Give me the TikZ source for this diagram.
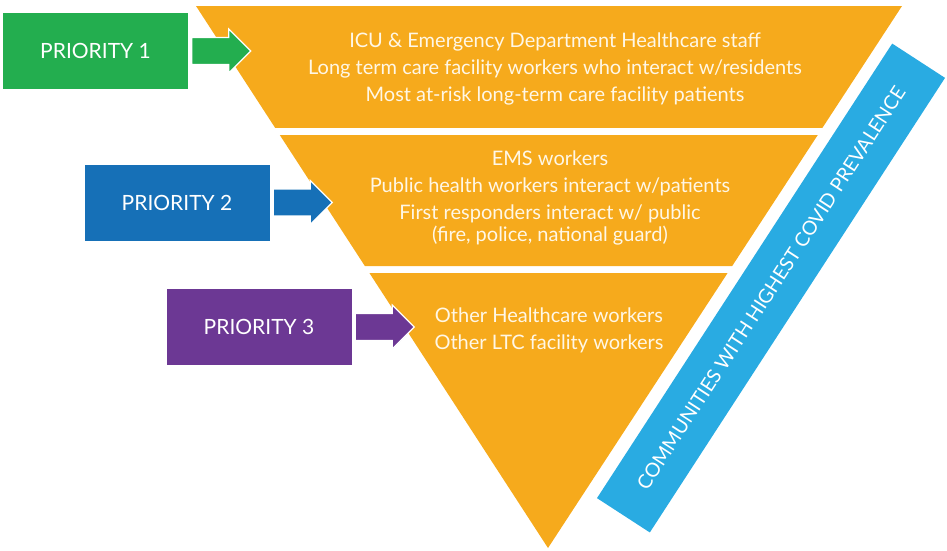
\documentclass[tikz,border=0pt]{standalone}
\usepackage{fontspec}
\setmainfont{Lato}
\usetikzlibrary{shapes, arrows, positioning, calc}

\definecolor{tierorange}{HTML}{F6AA1C}
\definecolor{tiertext}{HTML}{FFF7E6}
\definecolor{prioone}{HTML}{23AE4F}
\definecolor{priotwo}{HTML}{1670B7}
\definecolor{priothree}{HTML}{6C3894}
\definecolor{covidblue}{HTML}{29ABE2}

\begin{document}
\begin{tikzpicture}[x=1pt, y=-1pt, node distance = 3pt]
      \tikzstyle{priority} = [
        rectangle,
        text=white,
        minimum width = 185pt,
        minimum height = 76pt,
        font = \fontsize{21}{25}\selectfont
      ]

      \tikzstyle{pointer} = [
        single arrow,
        draw=white,
        line width = 1.2pt,
        minimum height = 59pt,
        minimum width = 44pt,
        inner xsep = 0pt,
        inner ysep = 10.5pt
      ]

      \tikzstyle{tier} = [
        fill=tierorange
      ]

      \tikzstyle{tiertext} = [
        text=tiertext,
        align=center,
        font = \fontsize{20}{27}\selectfont
      ]

      \tikzstyle{covid} = [
        rectangle,
        fill=covidblue,
        text=white,
        rotate = 57,
        minimum width = 542pt,
        minimum height = 63pt,
        font = \fontsize{19.5}{22}\selectfont
      ]

      \useasboundingbox (0,0) rectangle (947,550);

      % the inverted triangle, cut in three tiers
      \coordinate (topleft) at (196,6);
      \coordinate (topright) at (902,6);
      \coordinate (apex) at (548,548);

      \fill[tier] (topleft) -- (topright) -- ($(topright)!0.225!(apex)$)
      -- ($(topleft)!0.225!(apex)$) -- cycle;
      \fill[tier] ($(topleft)!0.238!(apex)$) -- ($(topright)!0.238!(apex)$)
      -- ($(topright)!0.48!(apex)$) -- ($(topleft)!0.48!(apex)$) -- cycle;
      \fill[tier] ($(topleft)!0.493!(apex)$) -- ($(topright)!0.493!(apex)$)
      -- (apex) -- cycle;

      \node[tiertext] (tierone) at (555,69) {ICU \& Emergency Department
        Healthcare staff\\Long term care facility workers who interact
        w/residents\\Most at-risk long-term care facility patients};
      \node[tiertext] (tiertwo) at (550,198) {EMS workers\\Public health
        workers interact w/patients\\First responders interact w/
        public\\[-5pt](fire, police, national guard)};
      \node[tiertext] (tierthree) at (549,330.5) {Other Healthcare
        workers\\Other LTC facility workers};

      \node[covid] (covid) at (771,288) {COMMUNITIES WITH HIGHEST COVID
        PREVALENCE};

      \node[priority, fill=prioone] (prio1) at (95.5,51) {PRIORITY 1};
      \node[priority, fill=priotwo] (prio2) at (177,202.5) {PRIORITY 2};
      \node[priority, fill=priothree] (prio3) at (259,327) {PRIORITY 3};

      \node[pointer, fill=prioone, right = of prio1] (arrow1) {};
      \node[pointer, fill=priotwo, right = of prio2] (arrow2) {};
      \node[pointer, fill=priothree, right = of prio3] (arrow3) {};
    \end{tikzpicture}
\end{document}
